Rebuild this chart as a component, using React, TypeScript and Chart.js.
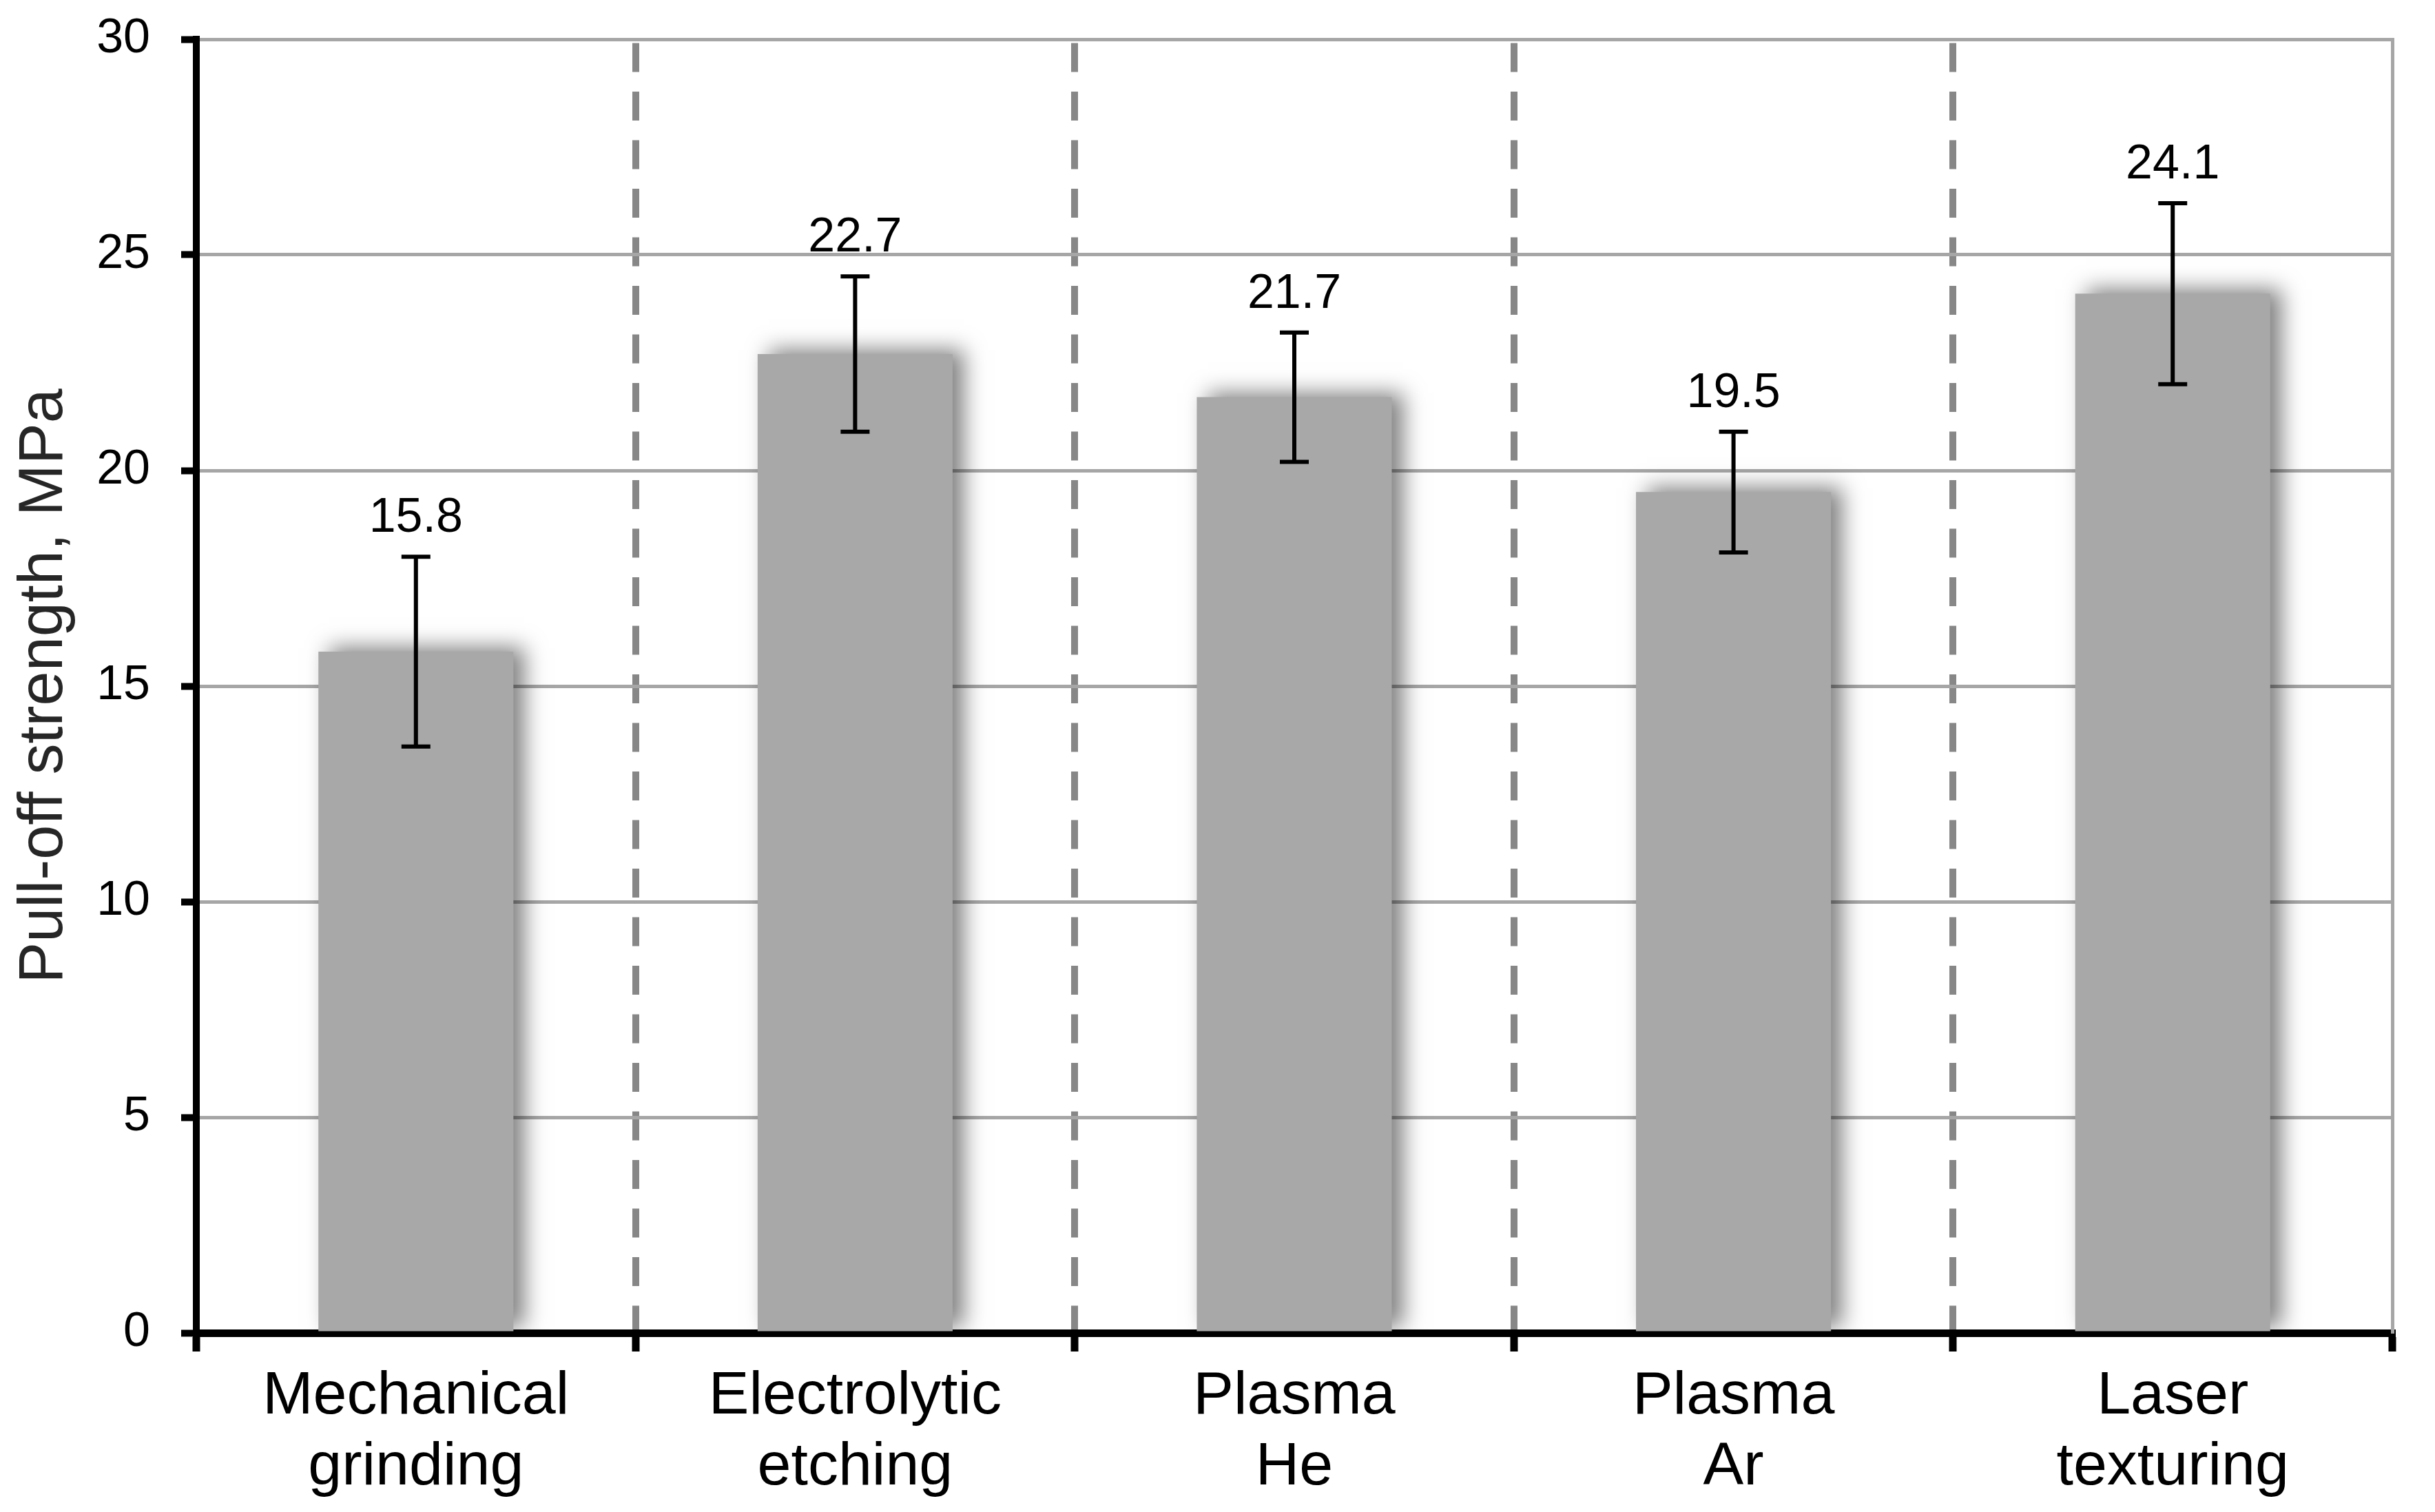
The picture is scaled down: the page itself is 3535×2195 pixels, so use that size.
import React, { useEffect, useRef } from "react";
import { Chart, registerables } from "chart.js";

Chart.register(...registerables);

const categories: string[][] = [
  ["Mechanical", "grinding"],
  ["Electrolytic", "etching"],
  ["Plasma", "He"],
  ["Plasma", "Ar"],
  ["Laser", "texturing"],
];
const strengthValues: number[] = [15.8, 22.7, 21.7, 19.5, 24.1];
const strengthErrors: number[] = [2.2, 1.8, 1.5, 1.4, 2.1];
const yAxisTitle = "Pull-off strength, MPa";
const yMin = 0;
const yMax = 30;
const yStep = 5;

const FONT = "'Liberation Sans', Arial, Helvetica, sans-serif";

const barExtrasPlugin = {
  id: "barExtras",
  beforeDatasetsDraw(chart: any) {
    const ctx = chart.ctx;
    ctx.save();
    ctx.shadowColor = "rgba(0,0,0,0.5)";
    ctx.shadowBlur = 30;
    ctx.shadowOffsetX = 16;
    ctx.shadowOffsetY = -6;
  },
  afterDatasetsDraw(chart: any) {
    const ctx = chart.ctx;
    ctx.restore();
    const meta = chart.getDatasetMeta(0);
    const yScale = chart.scales.y;
    ctx.save();
    ctx.strokeStyle = "#000000";
    ctx.fillStyle = "#000000";
    ctx.lineWidth = 6;
    ctx.lineCap = "butt";
    const capHalf = 21;
    meta.data.forEach((bar: any, i: number) => {
      const v = strengthValues[i];
      const e = strengthErrors[i];
      const x = bar.x;
      const yTop = yScale.getPixelForValue(v + e);
      const yBot = yScale.getPixelForValue(v - e);
      ctx.beginPath();
      ctx.moveTo(x, yTop);
      ctx.lineTo(x, yBot);
      ctx.moveTo(x - capHalf, yTop);
      ctx.lineTo(x + capHalf, yTop);
      ctx.moveTo(x - capHalf, yBot);
      ctx.lineTo(x + capHalf, yBot);
      ctx.stroke();
      ctx.font = `70px ${FONT}`;
      ctx.textAlign = "center";
      ctx.textBaseline = "alphabetic";
      ctx.fillText(v.toFixed(1), x, yTop - 36);
    });
    ctx.restore();
  },
};

export default function App() {
  const canvasRef = useRef<HTMLCanvasElement | null>(null);

  useEffect(() => {
    document.body.style.margin = "0";
    const canvas = canvasRef.current;
    if (!canvas) return;
    const lastIndex = categories.length;
    const chart = new Chart(canvas, {
      type: "bar",
      data: {
        labels: categories,
        datasets: [
          {
            data: strengthValues,
            backgroundColor: "#a8a8a8",
            borderWidth: 0,
            barPercentage: 0.444,
            categoryPercentage: 1.0,
          },
        ],
      },
      options: {
        animation: false,
        responsive: false,
        devicePixelRatio: 1,
        layout: { padding: { left: 0, top: 57, right: 62, bottom: 0 } },
        plugins: {
          legend: { display: false },
          tooltip: { enabled: false },
        },
        scales: {
          x: {
            type: "category",
            offset: true,
            grid: {
              offset: true,
              drawOnChartArea: true,
              lineWidth: 10,
              color: (ctx: any) =>
                ctx.type !== "tick" || ctx.index === 0 || ctx.index >= lastIndex
                  ? "rgba(0,0,0,0)"
                  : "#878787",
              tickColor: "#000000",
              tickWidth: 11,
              tickLength: 27,
            },
            border: {
              display: true,
              color: "#000000",
              width: 11,
              dash: [42, 28.5],
              dashOffset: 65,
            },
            ticks: {
              color: "#000000",
              padding: 14,
              maxRotation: 0,
              autoSkip: false,
              font: { family: FONT, size: 88, lineHeight: 1.17 },
            },
            afterFit: (scale: any) => {
              scale.height = 260;
              scale.paddingLeft = 0;
              scale.paddingRight = 0;
            },
          },
          y: {
            type: "linear",
            position: "left",
            min: yMin,
            max: yMax,
            ticks: {
              stepSize: yStep,
              color: "#000000",
              padding: 45,
              font: { family: FONT, size: 70 },
            },
            grid: {
              color: "#a6a6a6",
              lineWidth: 5,
              tickColor: "#000000",
              tickWidth: 10,
              tickLength: 22,
            },
            border: { display: true, color: "#000000", width: 10 },
            title: {
              display: true,
              text: yAxisTitle,
              color: "#262626",
              padding: { top: 11, bottom: 0 },
              font: { family: FONT, size: 90, lineHeight: 1.2 },
            },
            afterFit: (scale: any) => {
              scale.width = 285;
              scale.paddingTop = 0;
              scale.paddingBottom = 0;
            },
          },
          y2: {
            type: "linear",
            position: "right",
            min: yMin,
            max: yMax,
            ticks: { display: false },
            grid: { drawOnChartArea: false, drawTicks: false },
            border: { display: true, color: "#a6a6a6", width: 5 },
            afterFit: (scale: any) => {
              scale.width = 0;
              scale.paddingTop = 0;
              scale.paddingBottom = 0;
            },
          },
        },
      },
      plugins: [barExtrasPlugin],
    } as any);
    return () => {
      chart.destroy();
    };
  }, []);

  return (
    <div style={{ position: "absolute", left: 0, top: 0, width: 3535, height: 2195, background: "#ffffff" }}>
      <canvas ref={canvasRef} width={3535} height={2195} style={{ width: 3535, height: 2195, display: "block" }} />
    </div>
  );
}
